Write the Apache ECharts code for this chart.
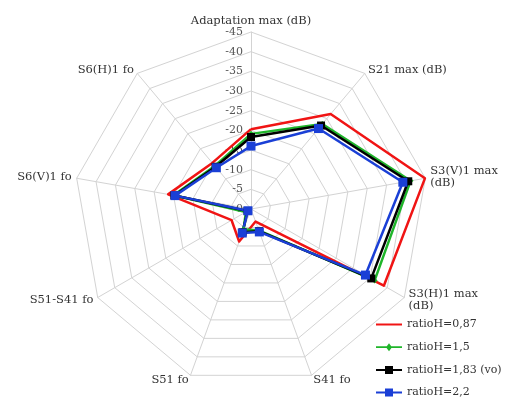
<!DOCTYPE html>
<html>
<head>
<meta charset="utf-8">
<script src="https://cdn.jsdelivr.net/npm/echarts@6/dist/echarts.min.js"></script>
<style>
  html, body { margin: 0; padding: 0; background: #fff; }
  #chart { width: 507px; height: 401px; }
</style>
</head>
<body>
<div id="chart"></div>
<script>
// radar axes, clockwise from the top
const indicators = [
  "Adaptation max (dB)",
  "S21 max (dB)",
  "S3(V)1 max\n(dB)",
  "S3(H)1 max\n(dB)",
  "S41 fo",
  "S51 fo",
  "S51-S41 fo",
  "S6(V)1 fo",
  "S6(H)1 fo",
];
// values in dB (negative)
const ratio087 = [-20.3, -31.5, -44.9, -39.0, -3.4, -8.8, -5.7, -21.4, -15.3];
const ratio15 = [-19.1, -28.2, -41.2, -36.3, -5.8, -5.5, -1.5, -20.0, -14.3];
const ratio183 = [-18.3, -27.7, -40.6, -35.3, -6.0, -6.3, -1.0, -19.8, -14.0];
const ratio22 = [-16.0, -26.7, -39.2, -33.6, -6.2, -6.5, -0.9, -19.6, -13.7];
const seriesNames = ["ratioH=0,87", "ratioH=1,5", "ratioH=1,83 (vo)", "ratioH=2,2"];

const font = "DejaVu Serif";
const chart = echarts.init(document.getElementById("chart"));

// echarts lays radar axes out counter-clockwise, so flip the order after the first
const order = [0, 8, 7, 6, 5, 4, 3, 2, 1];

const item = (name, values, color, symbol, size) => ({
  name: name,
  value: order.map((i) => -values[i]),
  symbol: symbol,
  symbolSize: size,
  lineStyle: { color: color, width: 2.5 },
  itemStyle: { color: color },
});

chart.setOption({
  backgroundColor: "#fff",
  animation: false,
  legend: {
    orient: "vertical",
    left: 376,
    top: 319,
    padding: 0,
    itemWidth: 26,
    itemHeight: 10,
    itemGap: 11.7,
    textStyle: { fontFamily: font, fontSize: 11, color: "#333" },
    data: [
      { name: seriesNames[0], icon: "path://M0,4H26V6H0Z" },
      { name: seriesNames[1], icon: "path://M0,4.1H26V5.9H0Z M13,1L16,5L13,9L10,5Z" },
      { name: seriesNames[2], icon: "path://M0,4H26V6H0Z M9,1H17V9H9Z" },
      { name: seriesNames[3], icon: "path://M0,4H26V6H0Z M9,1H17V9H9Z" },
    ],
  },
  radar: {
    center: [251, 209],
    radius: 177,
    startAngle: 90,
    splitNumber: 9,
    shape: "polygon",
    nameGap: 5,
    axisName: { color: "#333", fontFamily: font, fontSize: 11.5 },
    indicator: order.map((i, k) => ({
      name: indicators[i],
      min: 0,
      max: 45,
      axisLabel: { show: k === 0 },
    })),
    splitLine: { lineStyle: { color: "#d3d3d3", width: 1 } },
    splitArea: { show: false },
    axisLine: { lineStyle: { color: "#d3d3d3", width: 1 } },
    axisTick: { show: false },
    axisLabel: {
      show: false,
      fontFamily: font,
      fontSize: 11,
      color: "#555",
      margin: 8,
      formatter: (v) => (v === 0 ? "0" : "-" + v),
    },
  },
  series: [
    {
      type: "radar",
      data: [
        item(seriesNames[0], ratio087, "#f01414", "none", 0),
        item(seriesNames[1], ratio15, "#1fb52a", "diamond", 6),
        item(seriesNames[2], ratio183, "#000000", "rect", 8),
        item(seriesNames[3], ratio22, "#1a3fd6", "rect", 9),
      ],
    },
  ],
});
</script>
</body>
</html>
